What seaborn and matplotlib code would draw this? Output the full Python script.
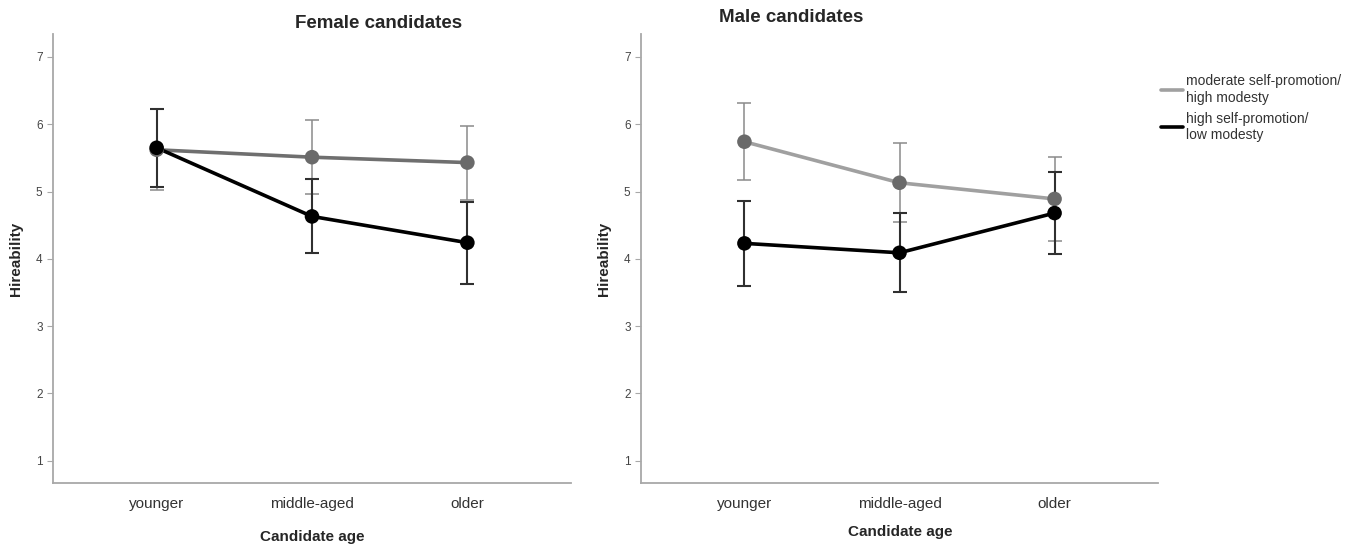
import numpy as np
import pandas as pd
import matplotlib
matplotlib.use("Agg")
import matplotlib.pyplot as plt
from matplotlib.lines import Line2D
import seaborn as sns

sns.set_style("white")
plt.rcParams['font.family'] = ['Liberation Sans', 'DejaVu Sans']

# values
ages = ["younger", "middle-aged", "older"]
conditions = ["moderate self-promotion/\nhigh modesty", "high self-promotion/\nlow modesty"]

female_moderate = [5.62, 5.51, 5.43]
female_moderate_err = [0.60, 0.55, 0.55]
female_high = [5.65, 4.63, 4.24]
female_high_err = [0.58, 0.55, 0.61]

male_moderate = [5.74, 5.13, 4.89]
male_moderate_err = [0.57, 0.59, 0.62]
male_high = [4.23, 4.09, 4.68]
male_high_err = [0.63, 0.59, 0.61]

titles = ["Female candidates", "Male candidates"]


def make_df(mod, mod_err, high, high_err):
    rows = []
    for cond, vals, errs in [(conditions[0], mod, mod_err), (conditions[1], high, high_err)]:
        for a, v, e in zip(ages, vals, errs):
            rows.append({"age": a, "cond": cond, "mean": v, "err": e})
    return pd.DataFrame(rows)


panels = [make_df(female_moderate, female_moderate_err, female_high, female_high_err),
          make_df(male_moderate, male_moderate_err, male_high, male_high_err)]
gray_lines = ["#6f6f6f", "#a0a0a0"]

fig = plt.figure(figsize=(13.52, 5.47), dpi=100)
ax_boxes = [[53 / 1352, 64 / 547, 518 / 1352, 449 / 547],
            [641 / 1352, 64 / 547, 517 / 1352, 449 / 547]]
title_pos = [(379, 24), (791, 18)]
xlab_pos = [(312, 537), (900, 532)]

for i, df in enumerate(panels):
    ax = fig.add_axes(ax_boxes[i])
    pal = {conditions[0]: gray_lines[i], conditions[1]: "#000000"}
    sns.lineplot(data=df, x="age", y="mean", hue="cond", palette=pal,
                 linewidth=2.6, legend=False, sort=False, ax=ax)
    xs = np.arange(len(ages))
    for cond, col, lw in [(conditions[0], "#8a8a8a", 1.1), (conditions[1], "#303030", 1.5)]:
        sub = df[df["cond"] == cond]
        ax.errorbar(xs, sub["mean"], yerr=sub["err"], fmt="none", ecolor=col,
                    elinewidth=lw, capsize=5, capthick=lw, zorder=3)
    sns.scatterplot(data=df, x="age", y="mean", hue="cond",
                    palette={conditions[0]: "#6a6a6a", conditions[1]: "#000000"},
                    s=110, edgecolor="none", legend=False, zorder=4, ax=ax)
    ax.set_xlim(-0.667, 2.667)
    ax.set_ylim(0.67, 7.34)
    ax.set_yticks(range(1, 8))
    ax.set_xlabel("")
    for s in ["top", "right"]:
        ax.spines[s].set_visible(False)
    for s in ["left", "bottom"]:
        ax.spines[s].set_color("#a8a8a8")
        ax.spines[s].set_linewidth(1.3)
    ax.tick_params(axis="y", length=4, color="#a8a8a8", labelsize=8.5,
                   labelcolor="#444444", direction="out", left=True)
    ax.tick_params(axis="x", length=0, labelsize=11, labelcolor="#333333", pad=10)
    ax.set_ylabel("Hireability", fontsize=11, fontweight="bold", labelpad=9)
    tx, ty = title_pos[i]
    fig.text(tx / 1352, 1 - ty / 547, titles[i], ha="center", va="center",
             fontsize=13.5, fontweight="bold")
    lx, ly = xlab_pos[i]
    fig.text(lx / 1352, 1 - ly / 547, "Candidate age", ha="center", va="center",
             fontsize=11, fontweight="bold")

handles = [Line2D([], [], color="#a0a0a0", lw=2.6), Line2D([], [], color="#000000", lw=2.6)]
fig.legend(handles, conditions, loc="upper left", bbox_to_anchor=(1148 / 1352, 1 - 62 / 547),
           frameon=False, fontsize=10, handlelength=1.6, handletextpad=0.2,
           labelspacing=0.5, labelcolor="#333333")

fig.savefig("out.png", dpi=100)
